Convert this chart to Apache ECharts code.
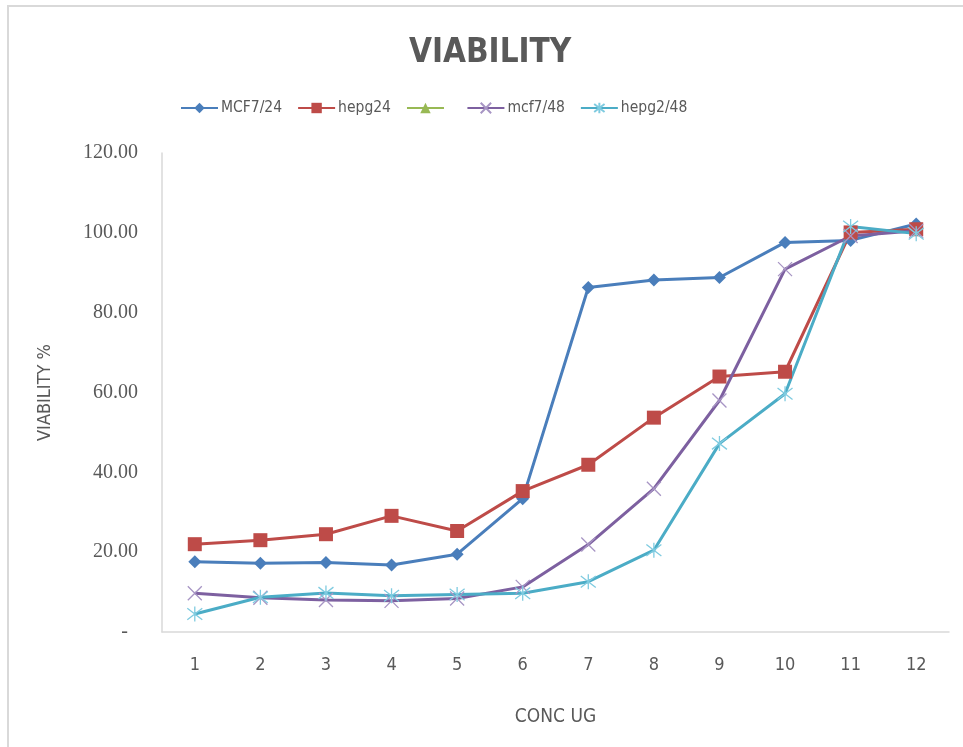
<!DOCTYPE html>
<html>
<head>
<meta charset="utf-8">
<title>VIABILITY</title>
<script src="https://cdn.jsdelivr.net/npm/echarts@6/dist/echarts.min.js"></script>
<style>
  html, body { margin: 0; padding: 0; background: #ffffff; }
  #chart { width: 963px; height: 747px; }
</style>
</head>
<body>
<div id="chart"></div>
<script>
// Concentration steps on the x axis
const categories = ['1', '2', '3', '4', '5', '6', '7', '8', '9', '10', '11', '12'];

// Viability (%) per cell line and exposure time
const mcf7_24 = [17.6, 17.2, 17.4, 16.8, 19.5, 33.4, 86.3, 88.2, 88.8, 97.6, 98.1, 102.2];
const hepg24 = [22.0, 23.0, 24.5, 29.1, 25.3, 35.3, 41.9, 53.7, 64.0, 65.2, 100.1, 100.9];
const blankSeries = [];
const mcf7_48 = [9.7, 8.6, 8.0, 7.8, 8.4, 11.3, 21.9, 35.9, 58.0, 90.9, 99.2, 100.5];
const hepg2_48 = [4.5, 8.7, 9.8, 9.1, 9.4, 9.7, 12.6, 20.5, 47.2, 59.7, 101.6, 99.8];

const seriesNames = ['MCF7/24', 'hepg24', ' ', 'mcf7/48', 'hepg2/48'];
const yTicks = { min: 0, max: 120, interval: 20 };

const NARROW = '"Liberation Sans Narrow", "DejaVu Sans Condensed", sans-serif';
const SERIF = '"Liberation Serif", "DejaVu Serif", serif';
const GREY = '#595959';

const crossPath = 'path://M0,0L10,10M10,0L0,10';
const starPath = 'path://M0,0L10,10M10,0L0,10M5,-1.5L5,11.5';

const chart = echarts.init(document.getElementById('chart'), null, { renderer: 'canvas' });

chart.setOption({
  animation: false,
  backgroundColor: '#ffffff',
  graphic: [
    {
      type: 'rect',
      shape: { x: 8, y: 6, width: 1000, height: 800 },
      style: { fill: 'none', stroke: '#d9d9d9', lineWidth: 2 },
      silent: true,
      z: -1
    }
  ],
  title: {
    text: 'VIABILITY',
    left: 404,
    top: 32,
    textStyle: { fontFamily: NARROW, fontSize: 33, fontWeight: 'bold', color: GREY }
  },
  legend: {
    data: seriesNames,
    left: 180,
    top: 100,
    padding: 0,
    itemWidth: 37,
    itemHeight: 13,
    itemGap: 15,
    textStyle: { fontFamily: NARROW, fontSize: 15.5, color: GREY, padding: [0, 0, 0, -2] }
  },
  grid: { left: 162, right: 14, top: 153, bottom: 115, containLabel: false },
  xAxis: {
    type: 'category',
    data: categories,
    boundaryGap: true,
    name: 'CONC UG',
    nameLocation: 'middle',
    nameGap: 76,
    nameTextStyle: { fontFamily: NARROW, fontSize: 19, color: GREY },
    axisLine: { show: true, lineStyle: { color: '#d9d9d9', width: 1.5 } },
    axisTick: { show: false },
    axisLabel: { fontFamily: NARROW, fontSize: 18, color: GREY, margin: 24 },
    splitLine: { show: false }
  },
  yAxis: {
    type: 'value',
    min: yTicks.min,
    max: yTicks.max,
    interval: yTicks.interval,
    name: 'VIABILITY %',
    nameLocation: 'middle',
    nameGap: 108,
    nameTextStyle: { fontFamily: NARROW, fontSize: 18, color: GREY },
    axisLine: { show: true, lineStyle: { color: '#d9d9d9', width: 1.5 } },
    axisTick: { show: false },
    splitLine: { show: false },
    axisLabel: {
      fontFamily: SERIF,
      fontSize: 20,
      color: GREY,
      margin: 24,
      formatter: function (v) { return v === 0 ? '-  ' : v.toFixed(2); }
    }
  },
  series: [
    {
      name: seriesNames[0],
      type: 'line',
      data: mcf7_24,
      symbol: 'diamond',
      symbolSize: 13,
      itemStyle: { color: '#4a7ebb' },
      lineStyle: { color: '#4a7ebb', width: 3 }
    },
    {
      name: seriesNames[1],
      type: 'line',
      data: hepg24,
      symbol: 'rect',
      symbolSize: 14,
      itemStyle: { color: '#be4b48' },
      lineStyle: { color: '#be4b48', width: 3 }
    },
    {
      name: seriesNames[2],
      type: 'line',
      data: blankSeries,
      symbol: 'triangle',
      symbolSize: 12,
      itemStyle: { color: '#98b954' },
      lineStyle: { color: '#98b954', width: 3 }
    },
    {
      name: seriesNames[3],
      type: 'line',
      data: mcf7_48,
      symbol: crossPath,
      symbolSize: 14,
      itemStyle: { color: 'transparent', borderColor: '#a795c4', borderWidth: 1.3 },
      lineStyle: { color: '#7d60a0', width: 3 }
    },
    {
      name: seriesNames[4],
      type: 'line',
      data: hepg2_48,
      symbol: starPath,
      symbolSize: 15,
      itemStyle: { color: 'transparent', borderColor: '#7fcbe0', borderWidth: 1.3 },
      lineStyle: { color: '#4bacc6', width: 3 }
    }
  ]
});
</script>
</body>
</html>
